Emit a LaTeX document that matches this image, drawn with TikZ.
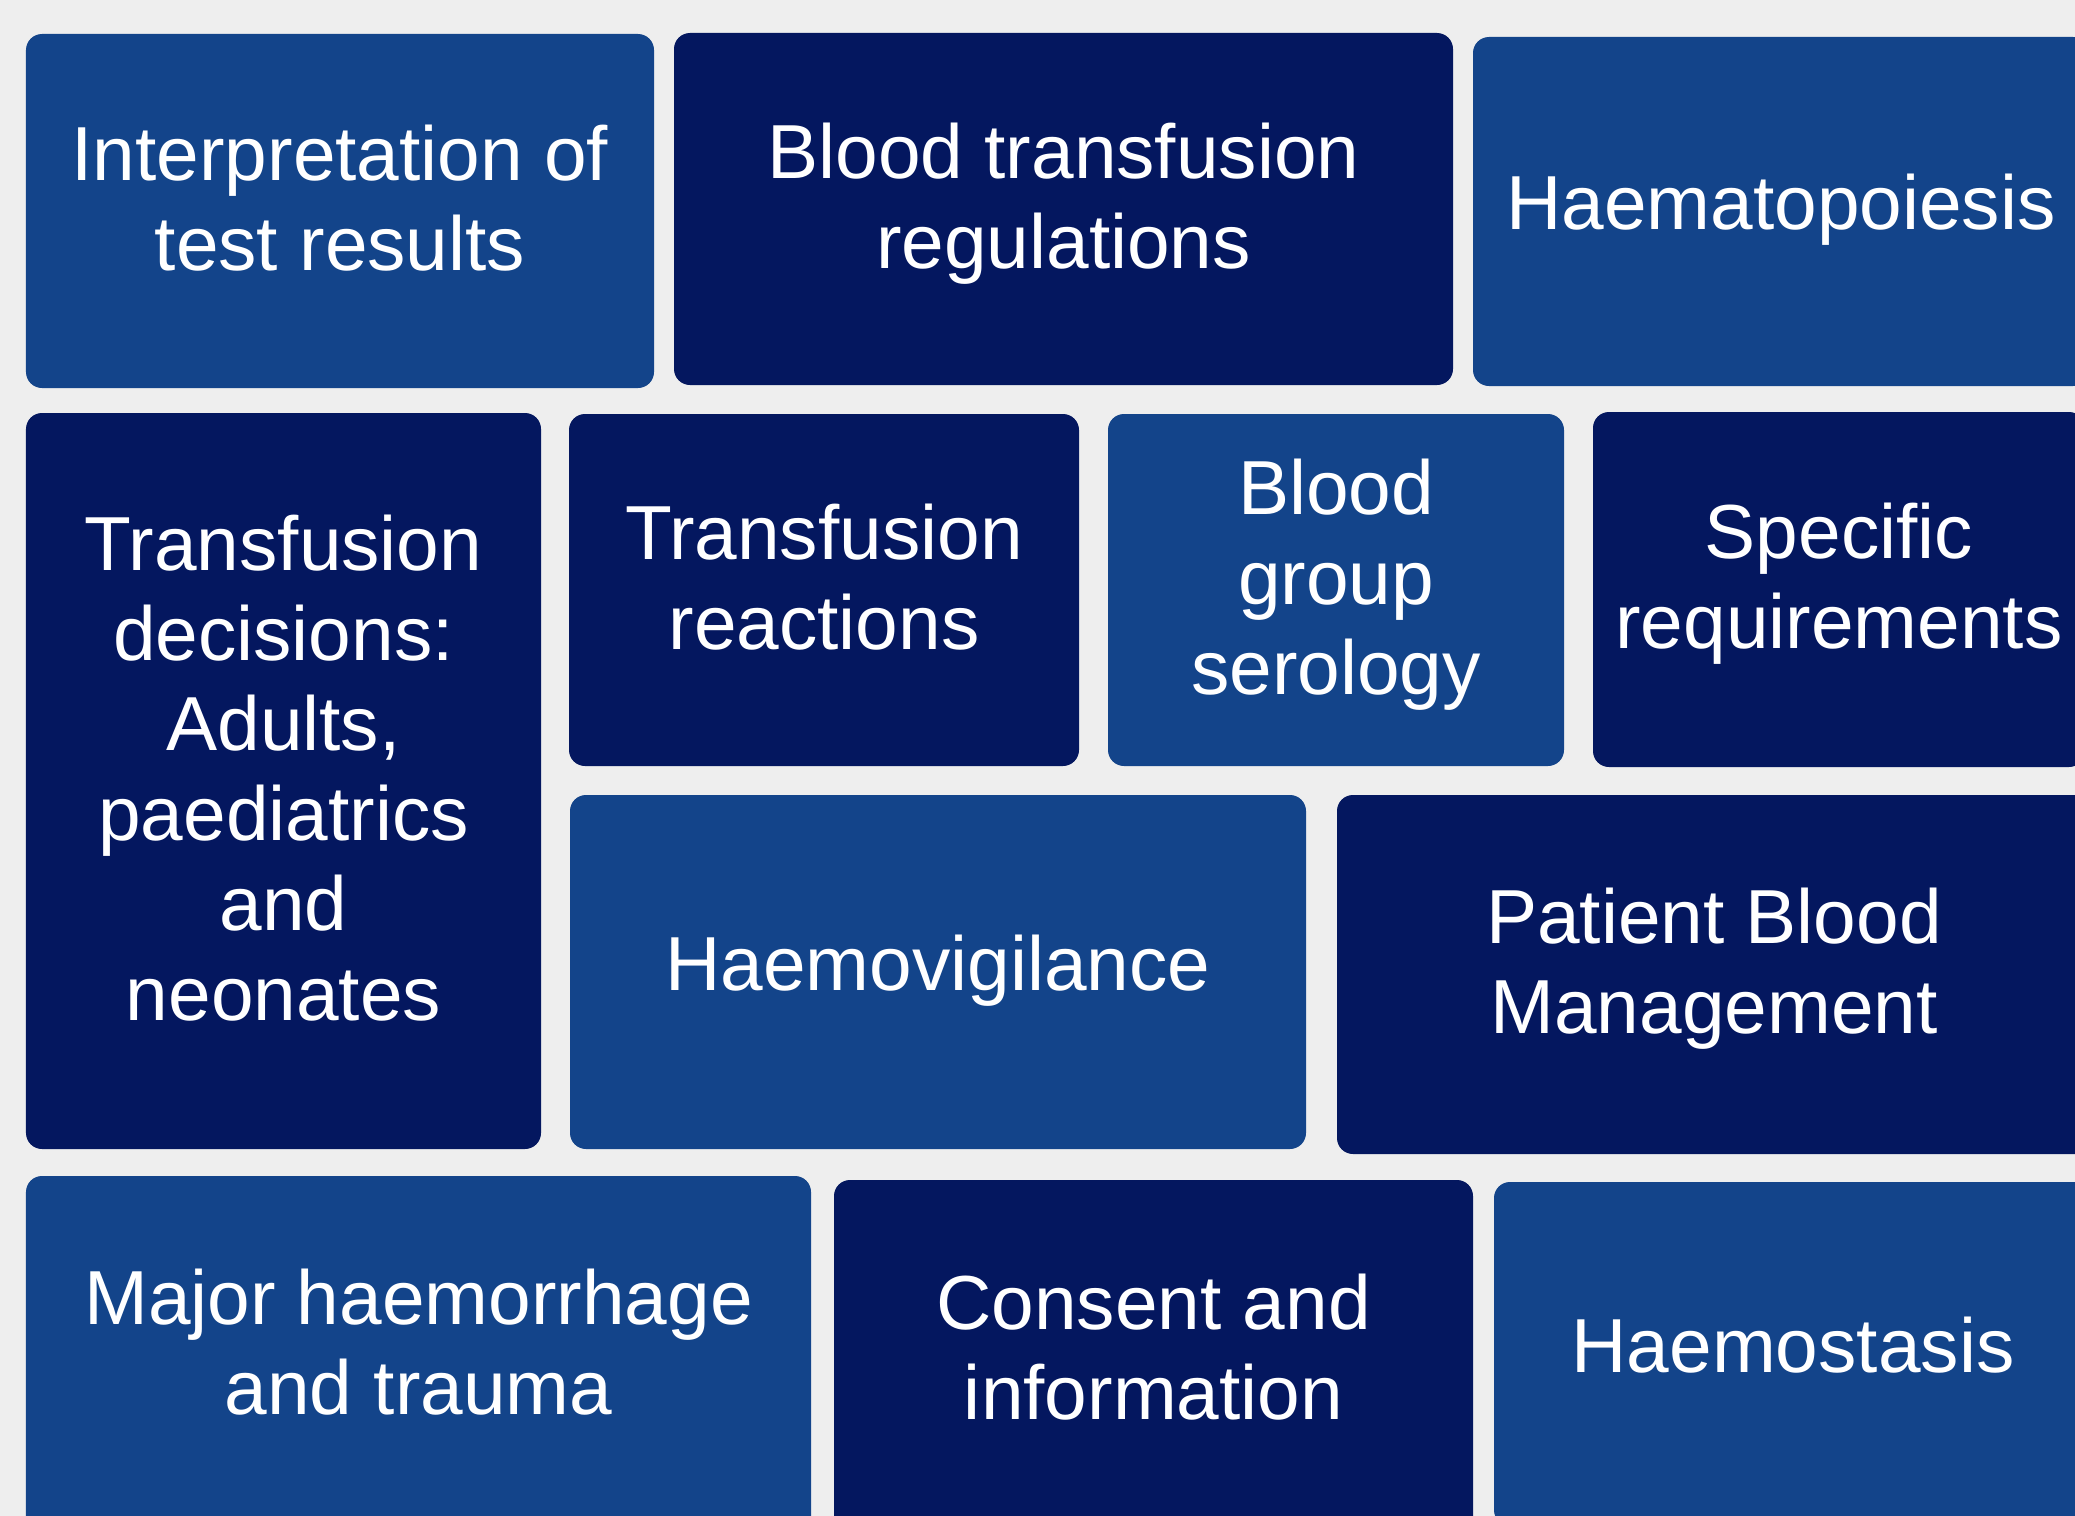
\documentclass[tikz,border=0pt]{standalone}
\usepackage{fontspec}
\usepackage{tikz}
\usetikzlibrary{positioning}
\usepackage{xcolor}
\newfontfamily\tilefont{Liberation Sans}
\definecolor{tilelight}{HTML}{13448A}
\definecolor{tiledark}{HTML}{04175F}
\definecolor{pagegray}{HTML}{EEEEEE}
\tikzset{
  tile/.style={rounded corners=1.6mm,align=center,inner sep=0pt,text=white,
    font={\tilefont\fontsize{21.8}{25.6}\selectfont},
    execute at begin node=\strut,execute at end node=\strut},
  lighttile/.style={tile,fill=tilelight},
  darktile/.style={tile,fill=tiledark}
}

\begin{document}
\begin{tikzpicture}[x=1mm,y=-1mm]
  \path[use as bounding box,fill=pagegray] (0,0) rectangle (207.5,151.6);
  \clip (0,0) rectangle (207.5,151.6);
  % top row
  \node[lighttile,minimum width=62.8mm,minimum height=35.4mm] (interp) at (34.0,21.1) {Interpretation of\\test results};
  \node[darktile,minimum width=77.9mm,minimum height=35.2mm] (regs) at (106.35,20.9) {Blood transfusion\\regulations};
  \node[lighttile,minimum width=61.6mm,minimum height=34.9mm] (haemato) at (178.1,21.15) {Haematopoiesis};
  % middle rows
  \node[darktile,minimum width=51.5mm,minimum height=73.6mm] (decisions) at (28.35,78.1) {Transfusion\\decisions:\\Adults,\\paediatrics\\and\\neonates};
  \node[darktile,minimum width=51.0mm,minimum height=35.2mm] (reactions) at (82.4,59.0) {Transfusion\\reactions};
  \node[lighttile,minimum width=45.6mm,minimum height=35.2mm] (serology) at (133.6,59.0) {Blood\\group\\serology};
  \node[darktile,minimum width=49.2mm,minimum height=35.5mm] (specific) at (183.9,58.95) {Specific\\requirements};
  \node[lighttile,minimum width=73.6mm,minimum height=35.4mm] (haemovig) at (93.8,97.2) {Haemovigilance};
  \node[darktile,minimum width=75.4mm,minimum height=35.9mm] (pbm) at (171.4,97.45) {Patient Blood\\Management};
  % bottom row
  \node[lighttile,minimum width=78.5mm,minimum height=35.8mm] (haemorrhage) at (41.85,135.5) {Major haemorrhage\\and trauma};
  \node[darktile,minimum width=63.9mm,minimum height=36.0mm] (consent) at (115.35,136.0) {Consent and\\information};
  \node[lighttile,minimum width=59.8mm,minimum height=34.4mm] (haemostasis) at (179.3,135.4) {Haemostasis};
\end{tikzpicture}
\end{document}
